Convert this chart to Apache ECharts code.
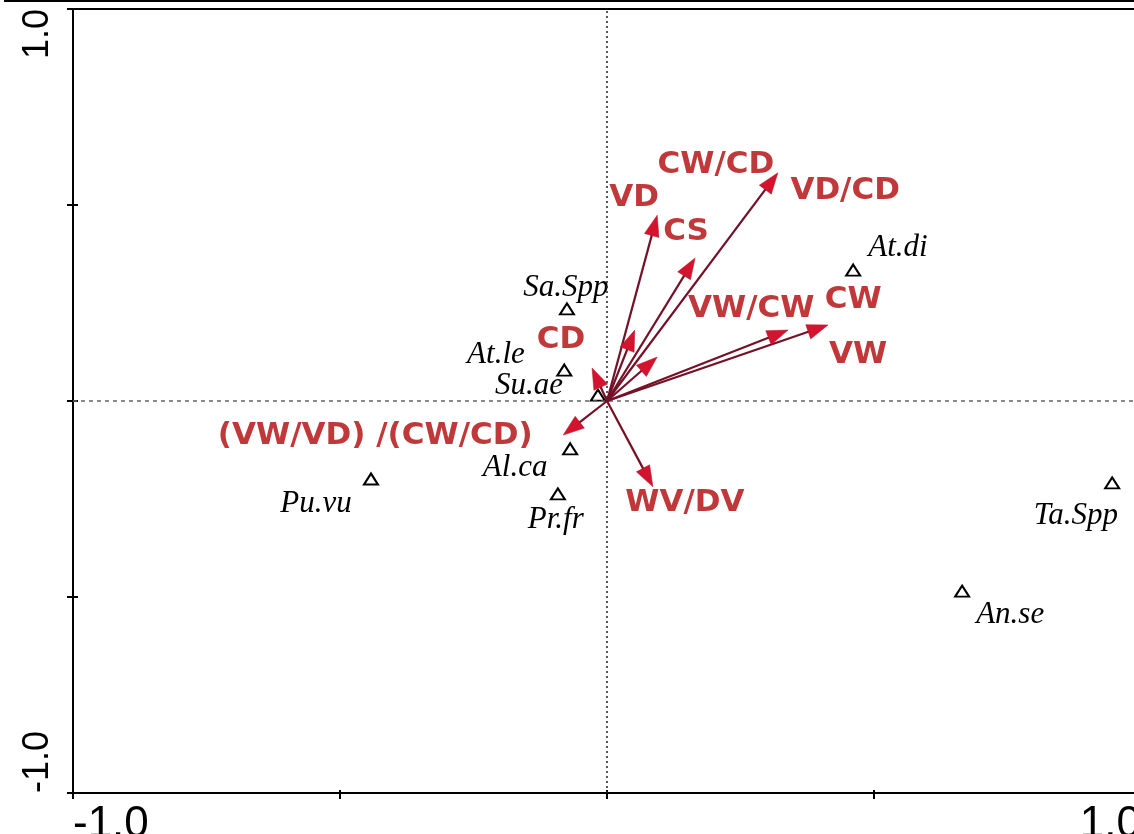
<!DOCTYPE html>
<html><head><meta charset="utf-8">
<script src="https://cdn.jsdelivr.net/npm/echarts@6/dist/echarts.min.js"></script>
<style>html,body{margin:0;padding:0;background:#fff;overflow:hidden}#c{width:1134px;height:834px}</style>
</head><body><div id="c"></div>
<script>
// Species (triangles)
const speciesNames = ['Sa.Spp','At.le','Su.ae','At.di','Al.ca','Pr.fr','Pu.vu','Ta.Spp','An.se'];
const speciesX = [-0.075, -0.080, -0.017, 0.461, -0.069, -0.092, -0.442, 0.946, 0.665];
const speciesY = [0.235, 0.079, 0.015, 0.334, -0.122, -0.237, -0.199, -0.209, -0.485];
const speciesLabelX = [-0.077, -0.208, -0.146, 0.545, -0.172, -0.096, -0.545, 0.878, 0.755];
const speciesLabelY = [0.288, 0.117, 0.038, 0.390, -0.171, -0.304, -0.263, -0.293, -0.546];

// Trait arrows
const traitNames = ['CW/CD','VD','CS','CW','VW/CW','VD/CD','VW','CD','(VW/VD) /(CW/CD)','WV/DV'];
const arrowX = [0.320, 0.094, 0.165, 0.414, 0.339, 0.052, 0.094, -0.028, -0.082, 0.086];
const arrowY = [0.582, 0.474, 0.365, 0.194, 0.181, 0.181, 0.112, 0.084, -0.087, -0.219];
const traitLabelX = [0.204, 0.051, 0.148, 0.461, 0.270, 0.446, 0.470, -0.086, -0.434, 0.146];
const traitLabelY = [0.602, 0.518, 0.431, 0.258, 0.235, 0.536, 0.117, 0.156, -0.089, -0.260];

// Axis tick labels
const axisMin = -1, axisMax = 1, axisStep = 0.5;
const tickLabelMap = { '-1': '-1.0', '1': '1.0' };

const RED_TEXT = '#c0383a';
const fmtTick = v => tickLabelMap[String(v)] || '';

const chart = echarts.init(document.getElementById('c'), null, { renderer: 'canvas' });

const option = {
  animation: false,
  backgroundColor: '#fff',
  grid: { left: 73, top: 9, width: 1068, height: 784, outerBoundsMode: 'none', containLabel: false,
    show: true, borderColor: '#000', borderWidth: 2, backgroundColor: 'transparent' },
  graphic: [{ type: 'line', shape: { x1: 4, y1: 1, x2: 1134, y2: 1 }, style: { stroke: '#000', lineWidth: 2 }, silent: true }],
  xAxis: [{
    type: 'value', min: axisMin, max: axisMax, interval: axisStep,
    axisLine: { show: true, onZero: false, lineStyle: { color: '#000', width: 2 } },
    axisTick: { show: true, inside: false, length: 6, lineStyle: { color: '#000', width: 2 } },
    splitLine: { show: false },
    axisLabel: { show: true, formatter: fmtTick, margin: 10, fontSize: 44, fontFamily: 'Liberation Sans, Arial', color: '#000',
      alignMinLabel: 'left', alignMaxLabel: 'right', showMinLabel: true, showMaxLabel: true, hideOverlap: false }
  }, {
    type: 'value', min: axisMin, max: axisMax, interval: axisStep, position: 'bottom',
    axisLine: { show: false, onZero: false }, axisTick: { show: true, inside: true, length: 3, lineStyle: { color: '#000', width: 2 } },
    splitLine: { show: false }, axisLabel: { show: false }
  }],
  yAxis: [{
    type: 'value', min: axisMin, max: axisMax, interval: axisStep,
    axisLine: { show: true, onZero: false, lineStyle: { color: '#000', width: 2 } },
    axisTick: { show: true, inside: false, length: 6, lineStyle: { color: '#000', width: 2 } },
    splitLine: { show: false },
    axisLabel: { show: true, formatter: fmtTick, rotate: 90, margin: 17, fontSize: 36, fontFamily: 'Liberation Sans, Arial', color: '#000',
      alignMinLabel: 'left', alignMaxLabel: 'right', showMinLabel: true, showMaxLabel: true, hideOverlap: false }
  }, {
    type: 'value', min: axisMin, max: axisMax, interval: axisStep, position: 'left',
    axisLine: { show: false, onZero: false }, axisTick: { show: true, inside: true, length: 5, lineStyle: { color: '#000', width: 2 } },
    splitLine: { show: false }, axisLabel: { show: false }
  }],
  series: [
    {
      type: 'scatter', name: 'species', z: 3,
      data: speciesX.map((x, i) => [x, speciesY[i]]),
      symbol: 'triangle', symbolSize: [14, 11],
      itemStyle: { color: '#fff', borderColor: '#000', borderWidth: 2, opacity: 1 },
      markLine: {
        silent: true, symbol: 'none', label: { show: false }, animation: false,
        data: [
          { xAxis: 0, lineStyle: { type: [2, 3], color: '#222', width: 1.5, opacity: 1 } },
          { yAxis: 0, lineStyle: { type: [4, 4], color: '#666', width: 1.5, opacity: 1 } }
        ]
      }
    },
    {
      type: 'scatter', name: 'speciesLabels', z: 4, silent: true,
      data: speciesLabelX.map((x, i) => ({ value: [x, speciesLabelY[i]], name: speciesNames[i] })),
      symbolSize: 0, itemStyle: { opacity: 1 },
      label: { show: true, position: 'inside', formatter: p => p.name, color: '#000', fontSize: 31, fontStyle: 'italic', fontFamily: 'Liberation Serif, Times New Roman, serif' }
    },
    {
      type: 'custom', name: 'arrows', z: 5,
      data: arrowX.map((x, i) => [x, arrowY[i]]),
      encode: { x: 0, y: 1 },
      renderItem: function (params, api) {
        const o = api.coord([0, 0]);
        const t = api.coord([api.value(0), api.value(1)]);
        const dx = t[0] - o[0], dy = t[1] - o[1];
        const L = Math.hypot(dx, dy), ux = dx / L, uy = dy / L;
        const hl = 21, hw = 7.5;
        const bx = t[0] - ux * hl, by = t[1] - uy * hl;
        return { type: 'group', children: [
          { type: 'line', shape: { x1: o[0], y1: o[1], x2: bx + ux * 4, y2: by + uy * 4 }, style: { stroke: '#741126', lineWidth: 2.2 } },
          { type: 'polygon', shape: { points: [[t[0], t[1]], [bx - uy * hw, by + ux * hw], [bx + uy * hw, by - ux * hw]] }, style: { fill: '#d4142e', stroke: '#b0102a', lineWidth: 0.5 } }
        ] };
      }
    },
    {
      type: 'scatter', name: 'traitLabels', z: 6, silent: true,
      data: traitLabelX.map((x, i) => ({ value: [x, traitLabelY[i]], name: traitNames[i] })),
      symbolSize: 0, itemStyle: { opacity: 1 },
      label: { show: true, position: 'inside', formatter: p => p.name, color: RED_TEXT, fontSize: 31, fontWeight: 'bold', fontFamily: 'DejaVu Sans, sans-serif' }
    }
  ]
};
chart.setOption(option);
</script></body></html>
